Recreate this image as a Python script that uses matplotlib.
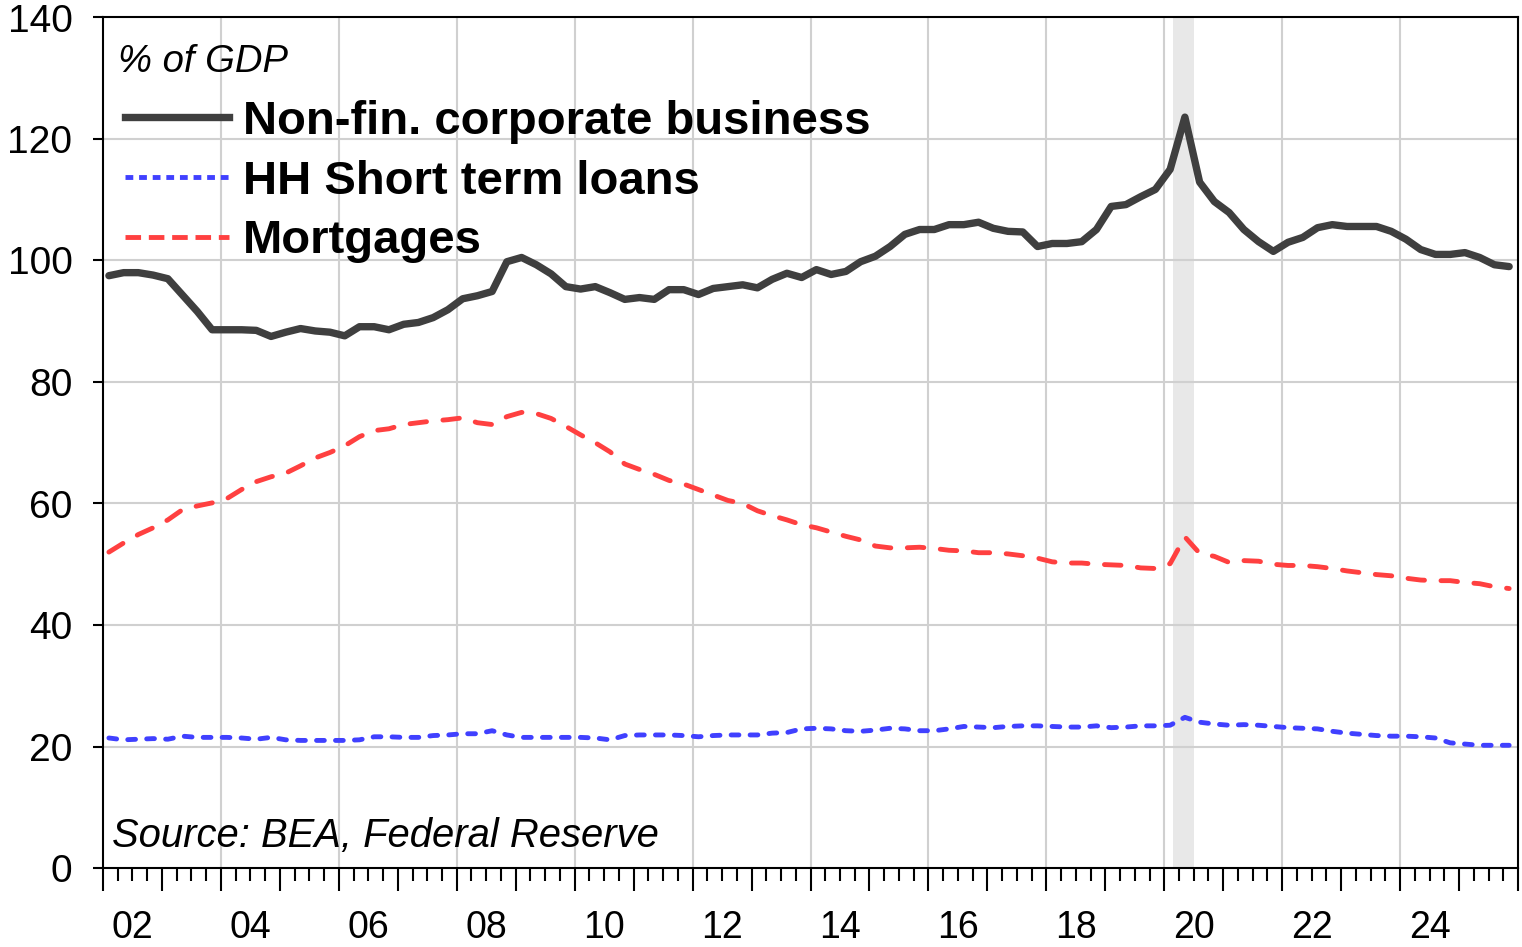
import numpy as np
import pandas as pd
import matplotlib
matplotlib.use("Agg")
import matplotlib.pyplot as plt
from matplotlib.lines import Line2D

plt.rcParams["font.family"] = ["Liberation Sans", "DejaVu Sans"]

# ── Data (% of GDP, quarterly 2002Q1 - 2025Q4) ─────────────────────────────────
quarters = pd.period_range("2002Q1", "2025Q4", freq="Q")

nonfin_corp = [
    97.5, 98.0, 98.0, 97.6, 97.0, 94.3, 91.6, 88.6,
    88.6, 88.6, 88.5, 87.5, 88.2, 88.8, 88.4, 88.2,
    87.6, 89.1, 89.1, 88.6, 89.5, 89.8, 90.6, 91.9,
    93.7, 94.2, 94.9, 99.8, 100.5, 99.3, 97.8, 95.7,
    95.3, 95.7, 94.7, 93.6, 93.9, 93.6, 95.2, 95.2,
    94.4, 95.4, 95.7, 96.0, 95.5, 96.9, 97.9, 97.2,
    98.5, 97.7, 98.2, 99.8, 100.7, 102.3, 104.3, 105.1,
    105.1, 105.9, 105.9, 106.3, 105.3, 104.8, 104.7, 102.3,
    102.8, 102.8, 103.1, 105.1, 108.9, 109.2, 110.5, 111.7,
    115.0, 123.6, 112.9, 109.7, 107.9, 105.1, 103.1, 101.5,
    103.0, 103.8, 105.4, 105.9, 105.6, 105.6, 105.6, 104.8,
    103.5, 101.8, 101.0, 101.0, 101.3, 100.5, 99.3, 99.0,
]

hh_short_term = [
    21.4, 21.1, 21.2, 21.3, 21.2, 21.7, 21.5, 21.5,
    21.5, 21.4, 21.2, 21.5, 21.1, 21.0, 21.0, 21.0,
    21.0, 21.1, 21.6, 21.6, 21.5, 21.5, 21.8, 21.9,
    22.1, 22.1, 22.6, 21.9, 21.5, 21.5, 21.5, 21.5,
    21.5, 21.4, 21.1, 21.8, 21.9, 21.9, 21.9, 21.8,
    21.6, 21.8, 21.9, 21.9, 21.9, 22.2, 22.3, 22.9,
    23.0, 22.9, 22.6, 22.5, 22.7, 23.0, 22.9, 22.6,
    22.6, 22.9, 23.3, 23.2, 23.1, 23.3, 23.4, 23.4,
    23.3, 23.2, 23.2, 23.4, 23.1, 23.2, 23.4, 23.4,
    23.5, 24.8, 24.0, 23.7, 23.5, 23.6, 23.5, 23.3,
    23.1, 23.0, 22.9, 22.5, 22.2, 22.0, 21.8, 21.7,
    21.7, 21.6, 21.4, 20.6, 20.4, 20.2, 20.2, 20.2,
]

mortgages = [
    52.0, 53.5, 54.9, 56.0, 57.3, 59.0, 59.6, 60.1,
    60.8, 62.3, 63.6, 64.4, 65.0, 66.2, 67.5, 68.4,
    69.5, 71.0, 72.0, 72.3, 73.0, 73.3, 73.6, 73.8,
    74.1, 73.3, 73.0, 74.3, 75.0, 74.8, 74.0, 72.7,
    71.3, 70.0, 68.5, 66.5, 65.6, 64.8, 63.8, 63.2,
    62.3, 61.4, 60.5, 60.0, 58.8, 58.0, 57.3, 56.5,
    56.0, 55.3, 54.6, 54.0, 53.0, 52.7, 52.7, 52.8,
    52.6, 52.3, 52.2, 51.9, 51.9, 51.7, 51.4, 51.0,
    50.4, 50.2, 50.2, 50.0, 49.9, 49.8, 49.4, 49.3,
    50.1, 54.5, 51.8, 51.3, 50.3, 50.6, 50.5, 50.0,
    49.8, 49.8, 49.6, 49.3, 48.9, 48.6, 48.3, 48.1,
    47.7, 47.4, 47.3, 47.3, 47.0, 46.8, 46.3, 46.0,
]

series_labels = ["Non-fin. corporate business", "HH Short term loans", "Mortgages"]
recession = (2020.15, 2020.5)
year_labels = list(range(2002, 2026, 2))

# ── Styles ─────────────────────────────────────────────────────────────────────
BLACK = "#3f3f3f"
BLUE = "#4040ff"
RED = "#ff4040"
GRID = "#d0d0d0"
W, H = 1522, 947

x = np.array([q.year + (q.quarter - 1) / 4 + 0.1 for q in quarters])

fig = plt.figure(figsize=(W / 100, H / 100), dpi=100)
ax = fig.add_axes([103 / W, 79 / H, 1415 / W, 850.5 / H])

ax.axvspan(*recession, color="#e8e8e8", lw=0, zorder=0)

ax.plot(x, nonfin_corp, color=BLACK, lw=5.3, solid_capstyle="round",
        solid_joinstyle="round", zorder=3)
ax.plot(x, hh_short_term, color=BLUE, lw=3.5, dashes=(1.6, 2.3),
        dash_capstyle="round", zorder=3)
ax.plot(x, mortgages, color=RED, lw=3.5, dashes=(3.4, 3.4),
        dash_capstyle="round", zorder=3)

ax.set_xlim(2002, 2026)
ax.set_ylim(0, 140)

# y axis
ax.set_yticks(range(0, 141, 20))
ax.tick_params(axis="y", direction="out", length=7, width=1.5,
               labelsize=28, pad=15)

# x axis: year ticks + quarter ticks, labels centred on even years
ax.set_xticks(range(2002, 2027))
ax.set_xticks(np.arange(2002, 2026, 0.25), minor=True)
ax.tick_params(axis="x", which="major", direction="out", length=16.5,
               width=1.5, labelbottom=False)
ax.tick_params(axis="x", which="minor", direction="out", length=9.5,
               width=1.5)

sec = ax.secondary_xaxis("bottom")
sec.set_xticks([y + 0.5 for y in year_labels],
               labels=["%02d" % (y % 100) for y in year_labels])
sec.tick_params(length=0, labelsize=27, pad=30)
sec.spines["bottom"].set_visible(False)

# grid
for yv in range(20, 140, 20):
    ax.axhline(yv, color=GRID, lw=1.5, zorder=1)
for xv in range(2004, 2026, 2):
    ax.axvline(xv, color=GRID, lw=1.5, zorder=1)

for sp in ax.spines.values():
    sp.set_linewidth(1.5)
    sp.set_color("black")

# legend
handles = [
    Line2D([], [], color=BLACK, lw=5.3),
    Line2D([], [], color=BLUE, lw=3.5, dashes=(1.6, 1.2)),
    Line2D([], [], color=RED, lw=3.5, dashes=(3.2, 1.6)),
]
ax.legend(handles, series_labels, loc="upper left",
          bbox_to_anchor=(0.0155, 0.903), frameon=False,
          prop=dict(weight="bold", size=34), handlelength=2.2,
          handletextpad=0.3, labelspacing=0.33, borderaxespad=0,
          borderpad=0)

fig.text(118 / W, 1 - 62 / H, "% of GDP", fontsize=27.5, style="italic",
         va="center", ha="left")
fig.text(112 / W, 1 - 836 / H, "Source: BEA, Federal Reserve", fontsize=28.8,
         style="italic", va="center", ha="left")

fig.savefig("out.png", dpi=100)
